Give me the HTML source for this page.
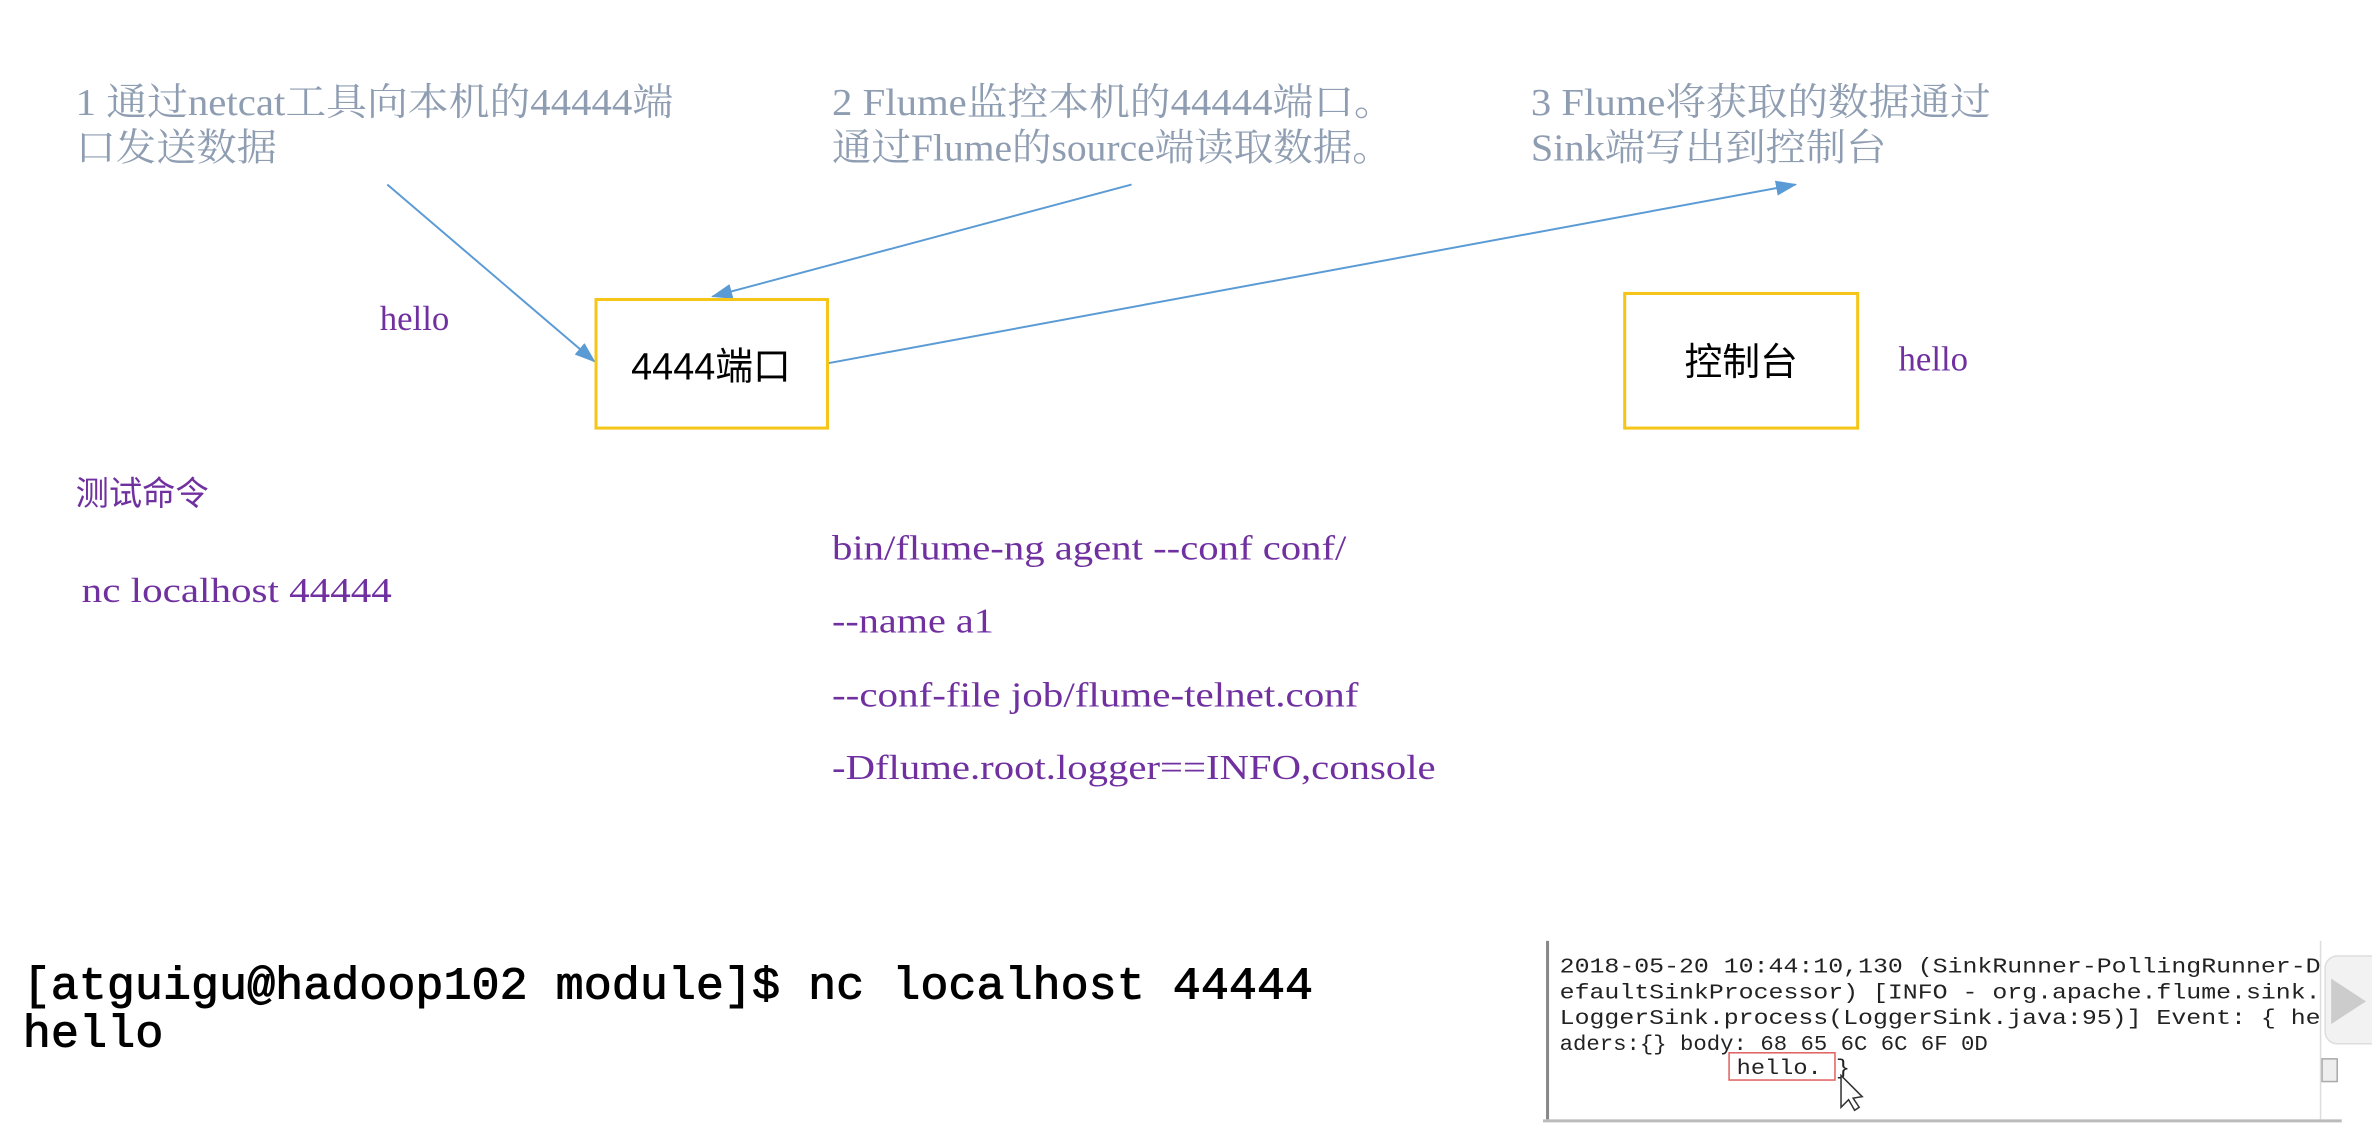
<!DOCTYPE html>
<html><head><meta charset="utf-8"><style>
html,body{margin:0;padding:0;background:#fff;}
svg{display:block;}
.t1{font-family:"Liberation Serif","Noto Serif CJK SC",serif;font-size:25px;fill:#8E9DB1;}
.p{font-family:"Liberation Serif","Noto Serif CJK SC",serif;font-size:23px;fill:#7030A0;}
.m{font-family:"Liberation Mono",monospace;font-size:14px;fill:#222;}
</style></head><body>
<svg width="2372" height="1136" viewBox="0 0 1568 751" preserveAspectRatio="none" xmlns="http://www.w3.org/2000/svg">
<defs><marker id="a" markerWidth="14" markerHeight="10" refX="13" refY="5" orient="auto" markerUnits="userSpaceOnUse"><path d="M0,0 L14,5 L0,10 z" fill="#5B9BD5"/></marker></defs>
<text class="t1" x="50" y="76" textLength="395" lengthAdjust="spacingAndGlyphs">1 通过netcat工具向本机的44444端</text>
<text class="t1" x="50" y="106" textLength="133" lengthAdjust="spacingAndGlyphs">口发送数据</text>
<text class="t1" x="550" y="76" textLength="372" lengthAdjust="spacingAndGlyphs">2 Flume监控本机的44444端口。</text>
<text class="t1" x="550" y="106" textLength="370" lengthAdjust="spacingAndGlyphs">通过Flume的source端读取数据。</text>
<text class="t1" x="1012" y="76" textLength="304" lengthAdjust="spacingAndGlyphs">3 Flume将获取的数据通过</text>
<text class="t1" x="1012" y="106" textLength="235" lengthAdjust="spacingAndGlyphs">Sink端写出到控制台</text>
<line x1="256" y1="122" x2="393" y2="239" stroke="#5B9BD5" stroke-width="1.3" marker-end="url(#a)"/>
<line x1="748" y1="122" x2="471" y2="196" stroke="#5B9BD5" stroke-width="1.3" marker-end="url(#a)"/>
<line x1="548" y1="240" x2="1187" y2="122" stroke="#5B9BD5" stroke-width="1.3" marker-end="url(#a)"/>
<text class="p" x="251" y="218">hello</text>
<rect x="394" y="198" width="153" height="85" fill="none" stroke="#F5C518" stroke-width="2"/>
<text x="470" y="251" text-anchor="middle" font-family="Liberation Sans,Noto Sans CJK SC,sans-serif" font-size="25" fill="#000">4444端口</text>
<rect x="1074" y="194" width="154" height="89" fill="none" stroke="#F5C518" stroke-width="2"/>
<text x="1151" y="248" text-anchor="middle" font-family="Liberation Sans,Noto Sans CJK SC,sans-serif" font-size="25" fill="#000">控制台</text>
<text class="p" x="1255" y="245">hello</text>
<text x="50" y="334" font-family="Liberation Sans,Noto Sans CJK SC,sans-serif" font-size="22" fill="#7030A0">测试命令</text>
<text class="p" x="54" y="398" textLength="205" lengthAdjust="spacingAndGlyphs">nc localhost 44444</text>
<text class="p" x="550" y="370" textLength="340" lengthAdjust="spacingAndGlyphs">bin/flume-ng agent --conf conf/</text>
<text class="p" x="550" y="418" textLength="107" lengthAdjust="spacingAndGlyphs">--name a1</text>
<text class="p" x="550" y="467" textLength="348" lengthAdjust="spacingAndGlyphs">--conf-file job/flume-telnet.conf</text>
<text class="p" x="550" y="515" textLength="399" lengthAdjust="spacingAndGlyphs">-Dflume.root.logger==INFO,console</text>
<text x="15" y="660" font-family="Liberation Mono,monospace" font-size="30" fill="#000" stroke="#000" stroke-width="0.6" textLength="853" lengthAdjust="spacingAndGlyphs">[atguigu@hadoop102 module]$ nc localhost 44444</text>
<text x="15" y="692" font-family="Liberation Mono,monospace" font-size="30" fill="#000" stroke="#000" stroke-width="0.6" textLength="93" lengthAdjust="spacingAndGlyphs">hello</text>
<line x1="1023" y1="622" x2="1023" y2="740" stroke="#888" stroke-width="2"/>
<line x1="1020" y1="741" x2="1548" y2="741" stroke="#bbb" stroke-width="2"/>
<line x1="1534" y1="622" x2="1534" y2="740" stroke="#ddd" stroke-width="1"/>
<rect x="1535" y="700" width="10" height="15" fill="#eee" stroke="#aaa"/>
<text class="m" x="1031" y="643" textLength="503" lengthAdjust="spacingAndGlyphs">2018-05-20 10:44:10,130 (SinkRunner-PollingRunner-D</text>
<text class="m" x="1031" y="660" textLength="503" lengthAdjust="spacingAndGlyphs">efaultSinkProcessor) [INFO - org.apache.flume.sink.</text>
<text class="m" x="1031" y="677" textLength="503" lengthAdjust="spacingAndGlyphs">LoggerSink.process(LoggerSink.java:95)] Event: { he</text>
<text class="m" x="1031" y="694" textLength="283" lengthAdjust="spacingAndGlyphs">aders:{} body: 68 65 6C 6C 6F 0D</text>
<text class="m" x="1148" y="710" textLength="75" lengthAdjust="spacingAndGlyphs">hello. }</text>
<rect x="1143" y="696" width="70" height="18" fill="none" stroke="#E06060" stroke-width="1"/>
<path d="M1217,711 L1217,732 L1222,727 L1226,734 L1229,732 L1225,726 L1231,725 z" fill="#fff" stroke="#333" stroke-width="1"/>
<rect x="1537" y="632" width="40" height="58" rx="8" fill="#f2f2f2" stroke="#ddd"/>
<path d="M1541,647 L1564,662 L1541,677 z" fill="#ccc"/>
</svg>
</body></html>
